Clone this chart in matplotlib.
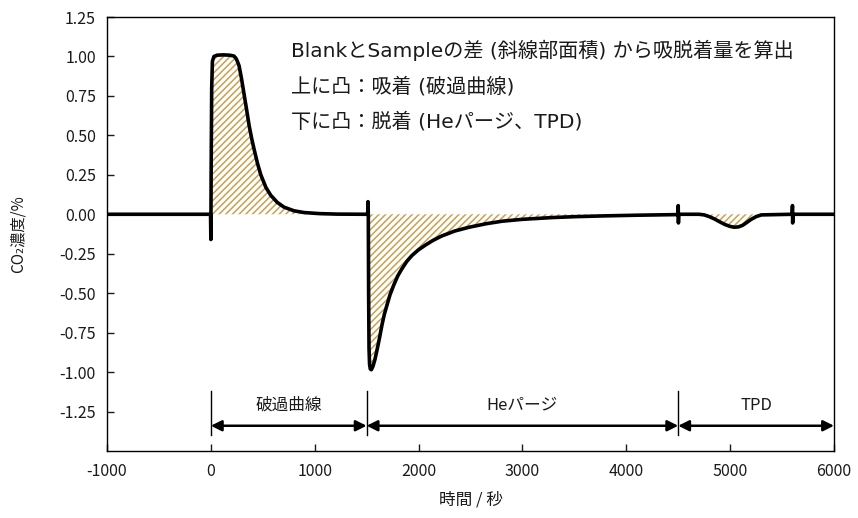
import matplotlib
matplotlib.use("Agg")
import matplotlib.pyplot as plt
import numpy as np

plt.rcParams['font.family'] = ['Noto Sans CJK JP', 'DejaVu Sans']
plt.rcParams['axes.unicode_minus'] = False

# Blank - Sample difference signal, per phase
base_t = [-1000, -3]
base_v = [0.0, 0.0]

break_t = [0, 3, 8, 15, 30, 60, 120, 180, 221, 240, 255, 272, 295, 320, 345, 369, 393,
           417, 450, 481, 530, 577, 640, 705, 800, 897, 1050, 1218, 1500]
break_v = [-0.16, 0.3, 0.8, 0.97, 1.0, 1.008, 1.01, 1.008, 1.003, 0.99, 0.97, 0.94, 0.86,
           0.76, 0.66, 0.56, 0.48, 0.41, 0.32, 0.25, 0.17, 0.12, 0.075, 0.045, 0.022,
           0.011, 0.004, 0.001, 0.0]

purge_t = [1510, 1513, 1516, 1519, 1523, 1528, 1535, 1545, 1560, 1580, 1600, 1625, 1648,
           1670, 1696, 1725, 1760, 1800, 1840, 1885, 1935, 2000, 2062, 2140, 2222, 2349,
           2488, 2650, 2804, 3000, 3282, 3512, 3800, 4100, 4495]
purge_v = [0.0, 0.08, 0.0, -0.5, -0.85, -0.95, -0.98, -0.985, -0.965, -0.92, -0.86, -0.78,
           -0.70, -0.635, -0.575, -0.51, -0.45, -0.39, -0.345, -0.3, -0.262, -0.225,
           -0.197, -0.165, -0.138, -0.106, -0.082, -0.06, -0.044, -0.032, -0.021, -0.015,
           -0.01, -0.006, -0.002]

tpd_t = [4500, 4502, 4505, 4700, 4750, 4800, 4850, 4900, 4950, 5000, 5040, 5080, 5120,
         5160, 5200, 5250, 5300, 5597, 5600, 5602, 5605, 6000]
tpd_v = [0.055, -0.055, 0.0, 0.0, -0.004, -0.015, -0.03, -0.048, -0.065, -0.077, -0.082,
         -0.08, -0.07, -0.052, -0.033, -0.015, -0.004, 0.0, 0.055, -0.055, 0.0, 0.0]

x_ticks = [-1000, 0, 1000, 2000, 3000, 4000, 5000, 6000]
y_ticks = [-1.25, -1.00, -0.75, -0.50, -0.25, 0.00, 0.25, 0.50, 0.75, 1.00, 1.25]

phase_bounds = [0, 1500, 4500, 6000]
phase_labels = ['破過曲線', 'Heパージ', 'TPD']

notes = ['BlankとSampleの差 (斜線部面積) から吸脱着量を算出',
         '上に凸：吸着 (破過曲線)',
         '下に凸：脱着 (Heパージ、TPD)']

t = np.array(base_t + break_t + purge_t + tpd_t, dtype=float)
v = np.array(base_v + break_v + purge_v + tpd_v, dtype=float)

fig = plt.figure(figsize=(8.58, 5.18), dpi=100)
ax = fig.add_axes([107/858, 1-451/518, (834-107)/858, (451-17)/518])

hatch_col = '#C9A14F'
plt.rcParams['hatch.linewidth'] = 1.1
plt.rcParams['hatch.color'] = hatch_col
ax.fill_between(t, v, 0, where=(t >= 0) & (t <= 5400), facecolor='none',
                edgecolor=hatch_col, hatch='/////', linewidth=0, interpolate=True)
ax.plot(t, v, color='black', lw=2.6, solid_joinstyle='round', solid_capstyle='round', zorder=3)

ax.set_xlim(-1000, 6000)
ax.set_ylim(-1.5, 1.25)
ax.set_xticks(x_ticks)
ax.set_yticks(y_ticks)
ax.set_xticklabels([str(x) for x in x_ticks])
ax.set_yticklabels([f'{y:.2f}' for y in y_ticks])
ax.tick_params(direction='in', length=5, width=1, labelsize=11.5, colors='#1a1a1a')
ax.tick_params(axis='x', pad=9)
ax.tick_params(axis='y', pad=8)
for s in ax.spines.values():
    s.set_linewidth(1.0)
ax.set_xlabel('時間 / 秒', fontsize=12, color='#1a1a1a')
ax.set_ylabel('CO₂濃度/%', fontsize=11, color='#1a1a1a')
ax.xaxis.set_label_coords(0.5, -0.113)
ax.yaxis.set_label_coords(-0.122, 0.5)
ax.xaxis.label.set_va('center')
ax.yaxis.label.set_va('center')

# phase markers
for b in phase_bounds[:-1]:
    ax.plot([b, b], [-1.12, -1.40], color='black', lw=1.0)
for i, lab in enumerate(phase_labels):
    a, b = phase_bounds[i], phase_bounds[i + 1]
    ax.annotate('', xy=(b, -1.34), xytext=(a, -1.34),
                arrowprops=dict(arrowstyle='<|-|>', color='black', lw=1.8,
                                mutation_scale=16, shrinkA=0, shrinkB=0),
                annotation_clip=False)
    ax.text((a + b) / 2, -1.21, lab, ha='center', va='center', fontsize=12, color='#1a1a1a')

for i, n in enumerate(notes):
    ax.text(770, 1.038 - i * 0.227, n, ha='left', va='center', fontsize=14.5, color='#1a1a1a',
            family=['DejaVu Sans', 'Noto Sans CJK JP'])

fig.savefig('out.png', dpi=100)
